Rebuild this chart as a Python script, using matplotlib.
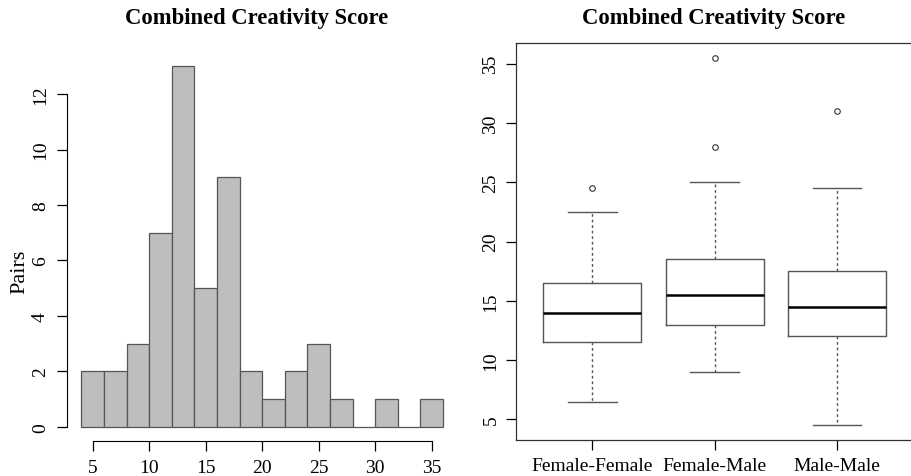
import numpy as np
import matplotlib.pyplot as plt

plt.rcParams['font.family'] = ['Liberation Serif', 'DejaVu Serif']

# ---- histogram data ----
bin_edges = [4, 6, 8, 10, 12, 14, 16, 18, 20, 22, 24, 26, 28, 30, 32, 34, 36]
pairs_count = [2, 2, 3, 7, 13, 5, 9, 2, 1, 2, 3, 1, 0, 1, 0, 1]
hist_xticks = [5, 10, 15, 20, 25, 30, 35]
hist_yticks = [0, 2, 4, 6, 8, 10, 12]

# ---- box plot data (summary) ----
groups = ["Female-Female", "Female-Male", "Male-Male"]
whisker_low = [6.5, 9.0, 4.5]
q1 = [11.5, 13.0, 12.0]
median = [14.0, 15.5, 14.5]
q3 = [16.5, 18.5, 17.5]
whisker_high = [22.5, 25.0, 24.5]
outliers = [[24.5], [28.0, 35.5], [31.0]]
box_yticks = [5, 10, 15, 20, 25, 30, 35]

title = "Combined Creativity Score"

fig = plt.figure(figsize=(9.12, 4.77), dpi=100)

# ================= histogram =================
ax1 = fig.add_axes([0.0735, 0.073, 0.428, 0.816])
lefts = bin_edges[:-1]
widths = np.diff(bin_edges)
ax1.bar(lefts, pairs_count, width=widths, align="edge",
        color="#bebebe", edgecolor="#555555", linewidth=0.9)
ax1.set_xlim(2.72, 37.28)
ax1.set_ylim(-0.52, 13.52)
for s in ["top", "right"]:
    ax1.spines[s].set_visible(False)
ax1.spines["left"].set_bounds(0, 12)
ax1.spines["bottom"].set_bounds(5, 35)
ax1.set_xticks(hist_xticks)
ax1.set_yticks(hist_yticks)
ax1.tick_params(axis="both", labelsize=14, length=7, width=0.9, pad=6)
for lab in ax1.get_yticklabels():
    lab.set_rotation(90)
    lab.set_va("center")
fig.text(20 / 912, 1 - 272 / 477, "Pairs", fontsize=16, rotation=90,
         ha="center", va="center")
fig.text(0.281, 0.962, title, fontsize=16.3, fontweight="bold",
         ha="center", va="center")

# ================= box plot =================
ax2 = fig.add_axes([0.566, 0.0755, 0.435, 0.832])
stats = []
for i, g in enumerate(groups):
    stats.append({
        "label": g, "whislo": whisker_low[i], "q1": q1[i], "med": median[i],
        "q3": q3[i], "whishi": whisker_high[i], "fliers": outliers[i],
    })
ax2.bxp(stats, positions=[1, 2, 3], widths=0.8, showfliers=True,
        boxprops=dict(color="#555555", linewidth=1.0),
        medianprops=dict(color="black", linewidth=1.8),
        whiskerprops=dict(color="#555555", linewidth=1.0, linestyle=(0, (2, 2))),
        capprops=dict(color="#555555", linewidth=1.0),
        flierprops=dict(marker="o", markersize=4, markerfacecolor="none",
                        markeredgecolor="#333333", markeredgewidth=0.8))
# R-style caps: half the box width
for line in ax2.lines:
    xd = line.get_xdata()
    if len(xd) == 2 and xd[0] != xd[1]:
        yd = line.get_ydata()
        if yd[0] == yd[1] and abs(xd[1] - xd[0]) < 0.5:
            c = (xd[0] + xd[1]) / 2
            line.set_xdata([c - 0.2, c + 0.2])
ax2.set_xlim(0.38, 3.62)
ax2.set_ylim(3.26, 36.74)
ax2.set_yticks(box_yticks)
ax2.tick_params(axis="both", labelsize=14, length=7, width=0.9, pad=5)
for lab in ax2.get_yticklabels():
    lab.set_rotation(90)
    lab.set_va("center")
for s in ax2.spines.values():
    s.set_linewidth(0.9)
    s.set_color("#333333")
fig.text(0.782, 0.962, title, fontsize=16.3, fontweight="bold",
         ha="center", va="center")

fig.savefig("out.png", dpi=100)
